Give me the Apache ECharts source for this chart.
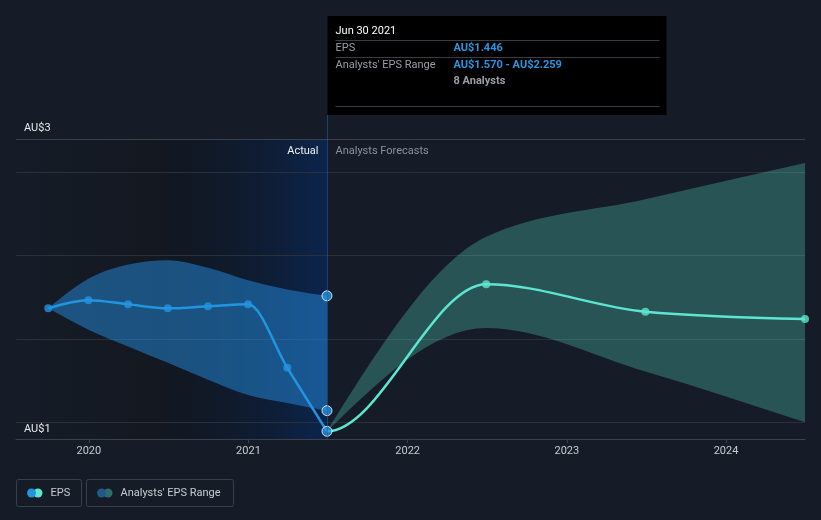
<!DOCTYPE html>
<html><head><meta charset="utf-8">
<script src="https://cdn.jsdelivr.net/npm/echarts@6/dist/echarts.min.js"></script>
<style>html,body{margin:0;padding:0;background:#161c27;}#c{width:821px;height:520px;}</style>
</head><body><div id="c"></div>
<script>
// ---- data ----
const actualDates = ['2019-09-30','2019-12-31','2020-03-31','2020-06-30','2020-09-30','2020-12-31','2021-03-31','2021-06-30'];
const actualEps = [2.184,2.233,2.208,2.184,2.196,2.208,1.827,1.446];
const actualRangeLow = [2.184,2.056,1.955,1.857,1.755,1.664,1.616,1.570];
const actualRangeHigh = [2.184,2.361,2.447,2.473,2.428,2.353,2.297,2.259];
const forecastDates = ['2021-06-30','2022-06-30','2023-06-30','2024-06-30'];
const forecastEps = [1.446,2.329,2.164,2.120];
const forecastLow = [1.446,2.066,1.805,1.500];
const forecastHigh = [1.446,2.613,2.839,3.056];
const gridValues = [1.5,2.0,2.5,3.0];
const topValue = 3.2;
const yMin = 1.4;
const yLabelTop = 'AU$3';
const yLabelBottom = 'AU$1';
const xMin = '2019-07-18', xMax = '2024-06-30';
const pastStart = '2020-06-30', nowDate = '2021-06-30';
const tipTitle = 'Jun 30 2021';
const tipRows = [['EPS','AU$1.446'],["Analysts' EPS Range",'AU$1.570 - AU$2.259']];
const tipAnalysts = '8 Analysts';
const legendItems = ['EPS', "Analysts' EPS Range"];

// ---- styling ----
const FONT = 'Roboto';
const BLUE = '#2394e0', TEAL = '#5ce6cf';
const ts = d => (echarts.time && echarts.time.parse) ? +echarts.time.parse(d) : +new Date(d);
const zip = (d, v) => d.map((x, i) => [ts(x), v[i]]);

// monotone-x cubic segments in pixel space (lead point only shapes the first tangent)
function monoSegments(pts, lead) {
  const all = lead ? [lead].concat(pts) : pts.slice();
  const n = all.length;
  const h = [], d = [];
  for (let i = 0; i < n - 1; i++) { h.push(all[i + 1][0] - all[i][0]); d.push((all[i + 1][1] - all[i][1]) / h[i]); }
  const m = new Array(n).fill(0);
  const sgn = v => v > 0 ? 1 : v < 0 ? -1 : 0;
  for (let i = 1; i < n - 1; i++) {
    const p = (d[i - 1] * h[i] + d[i] * h[i - 1]) / (h[i - 1] + h[i]);
    m[i] = (sgn(d[i - 1]) + sgn(d[i])) * Math.min(Math.abs(d[i - 1]), Math.abs(d[i]), 0.5 * Math.abs(p)) || 0;
  }
  if (n > 2) { m[0] = (3 * d[0] - m[1]) / 2; m[n - 1] = (3 * d[n - 2] - m[n - 2]) / 2; }
  else if (n === 2) { m[0] = m[1] = d[0]; }
  const segs = [];
  for (let i = lead ? 1 : 0; i < n - 1; i++) {
    const dx = h[i] / 3;
    segs.push({p0: all[i], c1: [all[i][0] + dx, all[i][1] + dx * m[i]], c2: [all[i + 1][0] - dx, all[i + 1][1] - dx * m[i + 1]], p1: all[i + 1]});
  }
  return segs;
}
const f = v => v.toFixed(2);
function linePath(segs) {
  let s = 'M' + f(segs[0].p0[0]) + ' ' + f(segs[0].p0[1]);
  segs.forEach(g => { s += 'C' + f(g.c1[0]) + ' ' + f(g.c1[1]) + ' ' + f(g.c2[0]) + ' ' + f(g.c2[1]) + ' ' + f(g.p1[0]) + ' ' + f(g.p1[1]); });
  return s;
}
function bandPath(upSegs, lowSegs) {
  let s = linePath(upSegs);
  const last = lowSegs[lowSegs.length - 1].p1;
  s += 'L' + f(last[0]) + ' ' + f(last[1]);
  for (let i = lowSegs.length - 1; i >= 0; i--) {
    const g = lowSegs[i];
    s += 'C' + f(g.c2[0]) + ' ' + f(g.c2[1]) + ' ' + f(g.c1[0]) + ' ' + f(g.c1[1]) + ' ' + f(g.p0[0]) + ' ' + f(g.p0[1]);
  }
  return s + 'Z';
}

function lineSeries(name, dates, values, color, leadIdx, z) {
  return {
    type: 'custom', name: name, z: z, silent: true,
    data: zip(dates, values), encode: {x: 0, y: 1},
    renderItem: (params, api) => {
      if (params.dataIndex !== 0) return null;
      const pts = dates.map((d, i) => api.coord([ts(d), values[i]]));
      const lead = leadIdx != null ? api.coord([ts(actualDates[leadIdx]), actualEps[leadIdx]]) : null;
      return {type: 'path', shape: {pathData: linePath(monoSegments(pts, lead))},
        style: {fill: 'none', stroke: color, lineWidth: 2.5}};
    }
  };
}
function bandSeries(name, dates, low, high, color, z) {
  return {
    type: 'custom', name: name, z: z, silent: true,
    data: zip(dates, high), encode: {x: 0, y: 1},
    renderItem: (params, api) => {
      if (params.dataIndex !== 0) return null;
      const up = dates.map((d, i) => api.coord([ts(d), high[i]]));
      const lo = dates.map((d, i) => api.coord([ts(d), low[i]]));
      return {type: 'path', shape: {pathData: bandPath(monoSegments(up), monoSegments(lo))},
        style: {fill: color, stroke: 'none'}};
    }
  };
}

const chart = echarts.init(document.getElementById('c'));
const gridLineData = gridValues.map(v => ({yAxis: v, lineStyle: {color: '#2b313c'}}));
gridLineData.push({yAxis: topValue, lineStyle: {color: '#3b414c'},
  label: {show: true, formatter: yLabelTop, position: 'insideStartTop', distance: [8, 5], color: '#e8eaed', fontSize: 11, fontFamily: FONT}});
gridLineData[0].label = {show: true, formatter: yLabelBottom, position: 'insideStartBottom', distance: [8, 1], color: '#e8eaed', fontSize: 11, fontFamily: FONT};

const lastA = actualDates.length - 1;
const option = {
  backgroundColor: '#161c27',
  animation: false,
  grid: {left: 16, right: 16, top: 139, bottom: 81},
  xAxis: {
    type: 'time', min: ts(xMin), max: ts(xMax),
    axisLine: {lineStyle: {color: '#3c424d'}},
    axisTick: {show: true, length: 4, lineStyle: {color: '#3c424d'}},
    axisLabel: {color: '#c8ccd1', fontSize: 11, fontFamily: FONT, margin: 7,
      showMinLabel: false, showMaxLabel: false,
      formatter: v => String(new Date(v).getFullYear())},
    splitLine: {show: false}
  },
  yAxis: {
    type: 'value', min: yMin, max: topValue,
    axisLine: {show: false}, axisTick: {show: false}, axisLabel: {show: false}, splitLine: {show: false}
  },
  series: [
    bandSeries("Analysts' EPS Range", actualDates, actualRangeLow, actualRangeHigh, 'rgba(35,140,222,0.5)', 2),
    bandSeries('Forecast range', forecastDates, forecastLow, forecastHigh, 'rgba(94,230,208,0.28)', 2),
    lineSeries('EPS forecast line', forecastDates, forecastEps, TEAL, lastA - 1, 3),
    lineSeries('EPS line', actualDates, actualEps, BLUE, null, 4),
    {
      type: 'scatter', name: 'EPS forecast', z: 5, silent: true,
      data: zip(forecastDates, forecastEps).slice(1),
      symbolSize: 8, itemStyle: {color: TEAL}
    },
    {
      type: 'scatter', name: 'EPS', z: 6, silent: true,
      data: zip(actualDates, actualEps).map((p, i) => i === lastA ? {value: p, symbolSize: 10, itemStyle: {borderColor: '#ffffff', borderWidth: 1}} : p),
      symbolSize: 8, itemStyle: {color: BLUE},
      markArea: {
        silent: true, z: 0,
        data: [
          [{xAxis: ts(xMin), itemStyle: {color: {type: 'linear', x: 0, y: 0, x2: 1, y2: 0,
              colorStops: [{offset: 0, color: 'rgba(10,12,16,0.0)'}, {offset: 1, color: 'rgba(10,12,16,0.3)'}]}}},
           {xAxis: ts(pastStart)}],
          [{xAxis: ts(pastStart), itemStyle: {color: {type: 'linear', x: 0, y: 0, x2: 1, y2: 0,
              colorStops: [{offset: 0, color: 'rgba(10,16,24,0.35)'}, {offset: 1, color: 'rgba(10,38,84,0.85)'}]}}},
           {xAxis: ts(nowDate)}]
        ]
      },
      markLine: {silent: true, symbol: 'none', z: 1, label: {show: false},
        lineStyle: {type: 'solid', width: 1}, data: gridLineData}
    },
    {
      type: 'scatter', name: 'rangeNow', z: 7, silent: true,
      data: [[ts(nowDate), actualRangeLow[lastA]], [ts(nowDate), actualRangeHigh[lastA]]],
      symbolSize: 10, itemStyle: {color: BLUE, borderColor: '#ffffff', borderWidth: 1}
    }
  ]
};
chart.setOption(option);

// ---- overlay texts positioned through the chart's scales ----
const pNowTop = chart.convertToPixel({xAxisIndex: 0, yAxisIndex: 0}, [ts(nowDate), topValue]);
const pNowBottom = chart.convertToPixel({xAxisIndex: 0, yAxisIndex: 0}, [ts(nowDate), yMin]);
const xn = Math.round(pNowTop[0]) + 0.5;
const boxTop = 16, boxH = 99, boxW = 339;
const valX = xn + 126;
const g = [];
g.push({type: 'line', shape: {x1: xn, y1: boxTop + boxH, x2: xn, y2: pNowBottom[1]}, style: {stroke: 'rgba(40,95,170,0.55)', lineWidth: 1}, z: 10});
g.push({type: 'rect', shape: {x: xn, y: boxTop, width: boxW, height: boxH}, style: {fill: '#000000'}, z: 20});
g.push({type: 'text', x: xn + 8, y: 31, style: {text: tipTitle, fill: '#ffffff', font: '11px ' + FONT, verticalAlign: 'middle'}, z: 21});
const sepYs = [40.5, 57.5, 106.5];
sepYs.forEach(y => g.push({type: 'line', shape: {x1: xn + 8, y1: y, x2: xn + boxW - 7, y2: y}, style: {stroke: '#3a3d42', lineWidth: 1}, z: 21}));
tipRows.forEach((r, i) => {
  const y = 48.5 + i * 16.5;
  g.push({type: 'text', x: xn + 8, y: y, style: {text: r[0], fill: '#9a9fa6', font: '11px ' + FONT, verticalAlign: 'middle'}, z: 21});
  g.push({type: 'text', x: valX, y: y, style: {text: r[1], fill: '#2a95e0', font: 'bold 11px ' + FONT, verticalAlign: 'middle'}, z: 21});
});
g.push({type: 'text', x: valX, y: 81, style: {text: tipAnalysts, fill: '#9a9fa6', font: 'bold 11px ' + FONT, verticalAlign: 'middle'}, z: 21});
g.push({type: 'text', x: xn - 9, y: pNowTop[1] + 12, style: {text: 'Actual', fill: '#eef0f2', font: '11px ' + FONT, align: 'right', verticalAlign: 'middle'}, z: 21});
g.push({type: 'text', x: xn + 8, y: pNowTop[1] + 12, style: {text: 'Analysts Forecasts', fill: '#8c9199', font: '11px ' + FONT, align: 'left', verticalAlign: 'middle'}, z: 21});
// legend
const legBoxes = [{x: 16.5, w: 65, c1: BLUE, c2: TEAL}, {x: 86.5, w: 147, c1: '#225a87', c2: '#2f6b68'}];
legBoxes.forEach((b, i) => {
  g.push({type: 'rect', shape: {x: b.x, y: 479.5, width: b.w, height: 27, r: 2}, style: {fill: 'none', stroke: '#3a404b', lineWidth: 1}, z: 21});
  g.push({type: 'circle', shape: {cx: b.x + 21.5, cy: 493, r: 4.5}, style: {fill: b.c2}, z: 21});
  g.push({type: 'circle', shape: {cx: b.x + 15, cy: 493, r: 4.5}, style: {fill: b.c1}, z: 22});
  g.push({type: 'text', x: b.x + 34, y: 493, style: {text: legendItems[i], fill: '#c8ccd1', font: '11px ' + FONT, verticalAlign: 'middle'}, z: 21});
});
chart.setOption({graphic: g});
</script></body></html>
